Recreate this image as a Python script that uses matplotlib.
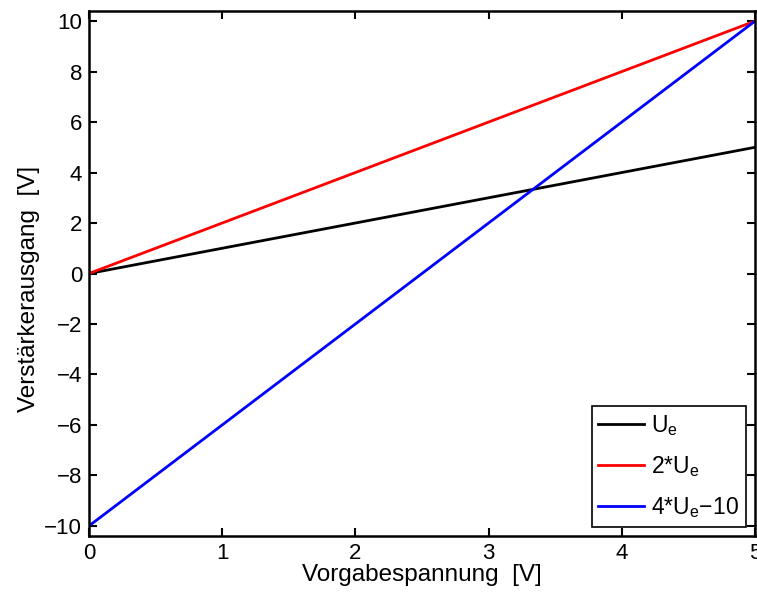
import matplotlib
matplotlib.use("Agg")
import matplotlib.pyplot as plt
import numpy as np

plt.rcParams['font.family'] = ['Liberation Sans', 'DejaVu Sans']
plt.rcParams['mathtext.fontset'] = 'custom'
plt.rcParams['mathtext.rm'] = 'Liberation Sans'
plt.rcParams['mathtext.it'] = 'Liberation Sans'

x_vals = [0, 5]
y_ue = [0, 5]
y_2ue = [0, 10]
y_4ue = [-10, 10]
labels = [r'U$_\mathregular{e}$', r'2*U$_\mathregular{e}$', '4*U$_\\mathregular{e}$\u221210']
colors = ['#000000', '#ff0000', '#0000ff']

fig = plt.figure(figsize=(7.57, 5.92), dpi=100)
ax = fig.add_axes([89/757, 56/592, (755-89)/757, (536-11)/592])
for y, lab, c in zip([y_ue, y_2ue, y_4ue], labels, colors):
    ax.plot(x_vals, y, color=c, lw=2, label=lab)

ax.set_xlim(0, 5)
ax.set_ylim(-10.4, 10.4)
ax.set_xticks([0, 1, 2, 3, 4, 5])
ax.set_yticks(np.arange(-10, 11, 2))
ax.set_yticklabels([str(v).replace('-', '\u2212') for v in range(-10, 11, 2)])
ax.tick_params(direction='in', top=True, right=True, labelsize=16, length=6, width=1.5, pad=5)
for s in ax.spines.values():
    s.set_linewidth(1.8)
ax.set_xlabel('Vorgabespannung  [V]', fontsize=17.5, labelpad=0)
ax.set_ylabel('Verstärkerausgang  [V]', fontsize=17.5, labelpad=2)
ax.yaxis.set_label_coords(-0.074, 0.47)
leg = ax.legend(loc='lower right', fontsize=16.5, frameon=True, fancybox=False,
                edgecolor='black', framealpha=1, handlelength=2.0,
                borderaxespad=0.4, labelspacing=0.7, handletextpad=0.3,
                borderpad=0.3)
leg.get_frame().set_linewidth(1.2)
fig.savefig('out.png', dpi=100)
